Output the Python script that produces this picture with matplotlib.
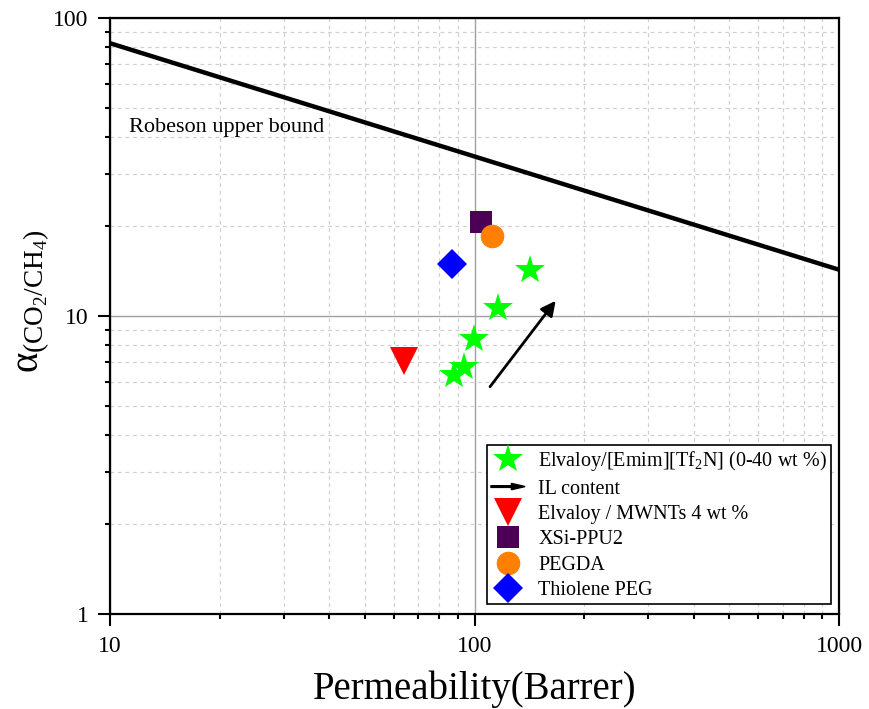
import matplotlib
matplotlib.use("Agg")
import matplotlib.pyplot as plt
import matplotlib.patches as mpatches
from matplotlib.legend_handler import HandlerPatch
from matplotlib.ticker import LogLocator, FixedLocator, NullFormatter, FixedFormatter

plt.rcParams['font.family'] = ['Liberation Serif', 'DejaVu Serif']
plt.rcParams['mathtext.fontset'] = 'custom'
plt.rcParams['mathtext.rm'] = 'Liberation Serif'
plt.rcParams['mathtext.it'] = 'Liberation Serif:italic'
plt.rcParams['mathtext.bf'] = 'Liberation Serif:bold'

# ---- data ----
robeson_x = [10, 1000]
robeson_y = [82.3, 14.3]

elvaloy_il_x = [87.9, 93.5, 99.7, 116, 142]
elvaloy_il_y = [6.34, 6.75, 8.38, 10.6, 14.3]

mwnt_x = [64.1]
mwnt_y = [7.09]

xsi_x = [103.9]
xsi_y = [20.7]

pegda_x = [111.7]
pegda_y = [18.6]

thiolene_x = [86.7]
thiolene_y = [14.9]

arrow_start = (110.3, 5.79)
arrow_end = (167, 11.25)

x_ticks = [10, 100, 1000]
x_ticklabels = ['10', '100', '1000']
y_ticks = [1, 10, 100]
y_ticklabels = ['1', '10', '100']

labels = ['Elvaloy/[Emim][Tf$_2$N] (0-40 wt %)', 'IL content',
          'Elvaloy / MWNTs 4 wt %', 'XSi-PPU2', 'PEGDA', 'Thiolene PEG']

# ---- figure ----
fig = plt.figure(figsize=(8.69, 7.09), dpi=100)
ax = fig.add_axes([110/869, 1-614/709, (839-110)/869, (614-18)/709])
ax.set_xscale('log')
ax.set_yscale('log')
ax.set_xlim(10, 1000)
ax.set_ylim(1, 100)

ax.xaxis.set_major_locator(FixedLocator(x_ticks))
ax.xaxis.set_major_formatter(FixedFormatter(x_ticklabels))
ax.yaxis.set_major_locator(FixedLocator(y_ticks))
ax.yaxis.set_major_formatter(FixedFormatter(y_ticklabels))
ax.xaxis.set_minor_locator(LogLocator(base=10, subs=range(2, 10)))
ax.yaxis.set_minor_locator(LogLocator(base=10, subs=range(2, 10)))
ax.xaxis.set_minor_formatter(NullFormatter())
ax.yaxis.set_minor_formatter(NullFormatter())

ax.grid(which='major', color='#a0a0a0', linestyle='-', linewidth=1.0)
ax.grid(which='minor', color='#d0d0d0', linestyle=(0, (3, 3)), linewidth=0.9)
ax.set_axisbelow(True)

for s in ax.spines.values():
    s.set_linewidth(1.6)
ax.tick_params(which='major', direction='out', length=8.6, width=1.5,
               labelsize=17, pad=7, top=False, right=False)
ax.tick_params(which='minor', direction='out', length=3.6, width=1.5,
               top=False, right=False)

# Robeson upper bound
ax.plot(robeson_x, robeson_y, color='black', linewidth=3.2, zorder=3)
ax.text(11.27, 43.0, 'Robeson upper bound', fontsize=16, va='center', ha='left')

# data
h1, = ax.plot(elvaloy_il_x, elvaloy_il_y, linestyle='none', marker='*',
              markersize=22, color='#00ff00', markeredgewidth=0, zorder=4)
h3, = ax.plot(mwnt_x, mwnt_y, linestyle='none', marker='v', markersize=20,
              color='#ff0000', markeredgewidth=0, zorder=4)
h4, = ax.plot(xsi_x, xsi_y, linestyle='none', marker='s', markersize=15.5,
              color='#4b0055', markeredgewidth=0, zorder=4)
h5, = ax.plot(pegda_x, pegda_y, linestyle='none', marker='o', markersize=17,
              color='#ff8000', markeredgewidth=0, zorder=5)
h6, = ax.plot(thiolene_x, thiolene_y, linestyle='none', marker='D', markersize=15,
              color='#0000ff', markeredgewidth=0, zorder=4)

ax.annotate('', xy=arrow_end, xytext=arrow_start,
            arrowprops=dict(arrowstyle='-|>', color='black', lw=2,
                            mutation_scale=22, shrinkA=0, shrinkB=0), zorder=4)

arrow_proxy = mpatches.FancyArrow(0, 0, 1, 0, color='black')


def make_arrow(legend, orig_handle, xdescent, ydescent, width, height, fontsize):
    return mpatches.FancyArrow(-xdescent, -ydescent + height / 2, width, 0,
                               length_includes_head=True, width=0.12 * height,
                               head_width=0.45 * height, head_length=0.4 * width,
                               color='black')


leg = ax.legend([h1, arrow_proxy, h3, h4, h5, h6], labels,
                handler_map={arrow_proxy: HandlerPatch(patch_func=make_arrow)},
                loc='lower right', bbox_to_anchor=(0.989, 0.0168),
                fontsize=14.5, frameon=True, fancybox=False,
                edgecolor='black', framealpha=1, borderpad=0.2,
                handlelength=1.7, handletextpad=0.65, labelspacing=0.31,
                borderaxespad=0.0)
leg.get_frame().set_linewidth(1.2)

ax.set_xlabel('Permeability(Barrer)', fontsize=28, labelpad=10)
ax.set_ylabel(r'$\mathrm{\alpha}_{(\mathrm{CO_2/CH_4})}$', fontsize=28)
ax.yaxis.set_label_coords(-0.08, 0.525)

fig.savefig('out.png', dpi=100)
